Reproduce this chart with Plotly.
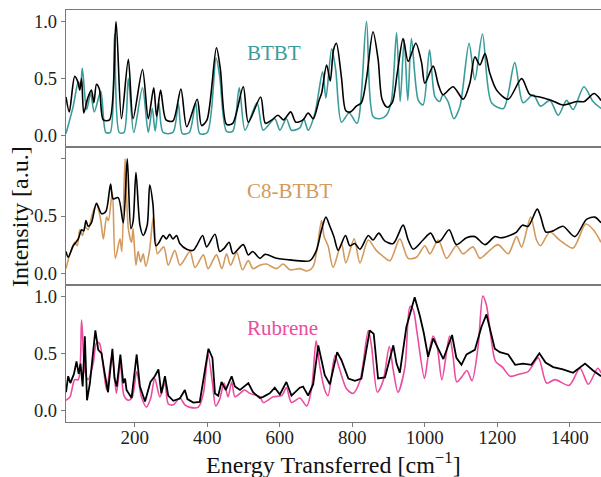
import plotly.graph_objects as go
from plotly.subplots import make_subplots

# ---------------- data ----------------
btbt_exp_x = [10, 19, 34, 43, 48, 53, 59, 70, 80, 87, 94, 102, 113, 130, 148, 163, 182, 195, 221, 237, 252, 260,
              271, 286, 305, 327, 343, 372, 384, 399, 425, 436, 453, 470, 499, 513, 547, 560, 578, 595, 610, 630,
              644, 664, 678, 692, 708, 715, 729, 739, 748, 756, 770, 782, 795, 811, 825, 839, 857, 871, 882, 896,
              910, 924, 940, 954, 975, 991, 1000, 1023, 1037, 1050, 1078, 1106, 1124, 1138, 1152, 1166, 1179, 1198,
              1230, 1267, 1290, 1317, 1350, 1381, 1419, 1440, 1467, 1486]
btbt_exp_y = [0.34, 0.21, 0.52, 0.47, 0.40, 0.50, 0.20, 0.33, 0.40, 0.29, 0.45, 0.41, 0.14, 0.14, 1.00, 0.15, 0.67,
              0.15, 0.58, 0.15, 0.42, 0.17, 0.40, 0.14, 0.13, 0.41, 0.08, 0.32, 0.09, 0.14, 0.77, 0.58, 0.10, 0.11,
              0.43, 0.12, 0.34, 0.11, 0.14, 0.18, 0.14, 0.21, 0.12, 0.14, 0.20, 0.15, 0.31, 0.37, 0.62, 0.48, 0.75,
              0.81, 0.51, 0.22, 0.21, 0.26, 0.29, 0.50, 0.91, 0.67, 0.32, 0.25, 0.29, 0.55, 0.85, 0.65, 0.81, 0.64,
              0.46, 0.61, 0.45, 0.36, 0.43, 0.32, 0.46, 0.69, 0.62, 0.72, 0.55, 0.40, 0.32, 0.50, 0.36, 0.34, 0.31,
              0.27, 0.30, 0.30, 0.37, 0.31]

btbt_calc_x = [10, 30, 44, 50, 55, 67, 78, 88, 106, 120, 132, 144, 157, 170, 182, 197, 221, 237, 248, 256, 266,
               278, 305, 320, 331, 350, 368, 379, 400, 424, 434, 453, 470, 488, 504, 537, 554, 586, 600, 618, 632,
               655, 666, 678, 697, 718, 727, 743, 754, 770, 791, 813, 839, 857, 876, 894, 908, 922, 932, 943, 953,
               963, 982, 995, 1013, 1028, 1041, 1050, 1064, 1080, 1097, 1122, 1138, 1159, 1184, 1217, 1248, 1271,
               1299, 1319, 1345, 1368, 1391, 1409, 1439, 1464, 1486]
btbt_calc_y = [0.02, 0.26, 0.47, 0.44, 0.59, 0.23, 0.37, 0.21, 0.39, 0.03, 0.03, 0.89, 0.03, 0.03, 0.50, 0.03,
               0.42, 0.03, 0.24, 0.04, 0.29, 0.03, 0.03, 0.28, 0.02, 0.03, 0.29, 0.02, 0.03, 0.68, 0.52, 0.04,
               0.04, 0.42, 0.05, 0.29, 0.05, 0.15, 0.05, 0.15, 0.05, 0.07, 0.15, 0.05, 0.20, 0.56, 0.33, 0.76,
               0.58, 0.12, 0.20, 0.11, 1.00, 0.17, 0.15, 0.18, 0.31, 0.90, 0.30, 0.84, 0.31, 0.85, 0.31, 0.27,
               0.75, 0.34, 0.30, 0.36, 0.30, 0.15, 0.26, 0.81, 0.49, 0.89, 0.29, 0.24, 0.64, 0.29, 0.36, 0.26,
               0.31, 0.18, 0.31, 0.23, 0.43, 0.30, 0.24]

c8_exp_x = [10, 16, 30, 44, 53, 59, 65, 71, 80, 94, 108, 120, 133, 140, 154, 168, 179, 189, 195, 203, 214, 223,
            234, 241, 250, 258, 267, 278, 287, 296, 305, 315, 324, 343, 361, 372, 387, 398, 421, 434, 447, 460, 471,
            499, 513, 525, 545, 559, 591, 619, 646, 683, 701, 715, 727, 738, 749, 761, 781, 793, 807, 821, 844, 857,
            873, 890, 913, 940, 954, 968, 995, 1016, 1032, 1045, 1067, 1087, 1115, 1138, 1166, 1193, 1210, 1234,
            1253, 1269, 1285, 1310, 1319, 1334, 1354, 1381, 1414, 1446, 1469, 1486]
c8_exp_y = [0.19, 0.14, 0.24, 0.30, 0.38, 0.37, 0.46, 0.41, 0.44, 0.61, 0.52, 0.54, 0.78, 0.65, 0.66, 0.44, 1.00,
            0.39, 0.45, 0.88, 0.42, 0.33, 0.42, 0.77, 0.60, 0.24, 0.27, 0.33, 0.30, 0.34, 0.30, 0.33, 0.26, 0.21,
            0.20, 0.25, 0.33, 0.23, 0.34, 0.19, 0.22, 0.27, 0.17, 0.25, 0.16, 0.19, 0.13, 0.165, 0.13, 0.12, 0.11,
            0.11, 0.20, 0.38, 0.49, 0.41, 0.32, 0.20, 0.33, 0.24, 0.26, 0.21, 0.33, 0.29, 0.35, 0.28, 0.26, 0.42,
            0.29, 0.21, 0.29, 0.35, 0.27, 0.29, 0.38, 0.25, 0.31, 0.32, 0.25, 0.32, 0.31, 0.33, 0.36, 0.42, 0.41,
            0.56, 0.50, 0.36, 0.37, 0.41, 0.32, 0.47, 0.49, 0.44]

c8_calc_x = [10, 21, 34, 41, 48, 56, 62, 71, 82, 94, 105, 113, 122, 127, 138, 146, 159, 164, 173, 182, 191, 195,
             203, 209, 216, 223, 230, 240, 251, 262, 268, 280, 292, 310, 324, 333, 352, 366, 389, 402, 425, 440,
             453, 464, 481, 497, 513, 526, 545, 563, 591, 609, 628, 655, 674, 692, 715, 722, 733, 747, 770, 782,
             805, 821, 844, 866, 884, 904, 931, 954, 977, 1000, 1014, 1037, 1060, 1087, 1105, 1133, 1152, 1179,
             1202, 1230, 1253, 1267, 1292, 1308, 1319, 1345, 1372, 1409, 1444, 1465, 1486]
c8_calc_y = [0.04, 0.17, 0.27, 0.24, 0.38, 0.33, 0.41, 0.38, 0.51, 0.60, 0.48, 0.30, 0.49, 0.46, 0.71, 0.13, 0.30,
             0.19, 1.00, 0.39, 0.27, 0.39, 0.07, 0.19, 0.10, 0.17, 0.06, 0.19, 0.49, 0.17, 0.19, 0.23, 0.07, 0.20,
             0.07, 0.10, 0.19, 0.05, 0.16, 0.04, 0.16, 0.04, 0.17, 0.07, 0.18, 0.03, 0.11, 0.04, 0.07, 0.08, 0.04,
             0.08, 0.03, 0.04, 0.02, 0.06, 0.46, 0.32, 0.24, 0.05, 0.26, 0.09, 0.30, 0.09, 0.29, 0.20, 0.15, 0.11,
             0.30, 0.13, 0.14, 0.24, 0.17, 0.29, 0.13, 0.24, 0.17, 0.23, 0.13, 0.20, 0.25, 0.17, 0.32, 0.23, 0.49,
             0.29, 0.24, 0.36, 0.29, 0.22, 0.43, 0.38, 0.27]

rub_exp_x = [10, 16, 22, 32, 39, 45, 50, 56, 62, 68, 76, 82, 91, 99, 108, 117, 126, 138, 144, 150, 160, 168, 173,
             177, 191, 205, 214, 228, 243, 255, 265, 273, 283, 292, 306, 324, 338, 345, 361, 379, 390, 403, 414,
             421, 430, 439, 451, 467, 476, 490, 513, 526, 545, 554, 572, 586, 600, 618, 632, 655, 664, 678, 692,
             706, 715, 724, 738, 758, 770, 789, 807, 825, 848, 859, 871, 890, 913, 922, 931, 949, 972, 986, 997,
             1009, 1023, 1037, 1051, 1075, 1087, 1101, 1115, 1138, 1156, 1170, 1177, 1193, 1207, 1230, 1249, 1271,
             1294, 1316, 1333, 1354, 1381, 1409, 1442, 1464, 1486]
rub_exp_y = [0.16, 0.30, 0.24, 0.32, 0.43, 0.32, 0.41, 0.21, 0.65, 0.09, 0.24, 0.44, 0.70, 0.53, 0.50, 0.32, 0.16,
             0.54, 0.28, 0.21, 0.49, 0.24, 0.28, 0.18, 0.11, 0.49, 0.21, 0.08, 0.25, 0.30, 0.36, 0.15, 0.30, 0.13,
             0.085, 0.105, 0.18, 0.10, 0.07, 0.075, 0.30, 0.54, 0.46, 0.15, 0.13, 0.25, 0.18, 0.30, 0.21, 0.18,
             0.24, 0.16, 0.11, 0.12, 0.15, 0.20, 0.14, 0.25, 0.13, 0.20, 0.21, 0.13, 0.23, 0.57, 0.44, 0.31, 0.23,
             0.51, 0.44, 0.28, 0.26, 0.28, 0.70, 0.67, 0.28, 0.29, 0.57, 0.41, 0.33, 0.73, 0.99, 0.83, 0.68, 0.47,
             0.63, 0.54, 0.45, 0.66, 0.46, 0.40, 0.49, 0.53, 0.73, 0.84, 0.75, 0.54, 0.51, 0.49, 0.40, 0.41, 0.40,
             0.50, 0.42, 0.38, 0.36, 0.33, 0.41, 0.35, 0.30]

rub_calc_x = [10, 21, 34, 44, 53, 62, 71, 85, 94, 102, 113, 122, 137, 149, 160, 170, 182, 193, 205, 218, 232, 243,
              255, 269, 283, 292, 306, 324, 338, 350, 375, 389, 402, 414, 423, 434, 446, 457, 467, 476, 490, 503,
              517, 545, 554, 582, 605, 618, 632, 655, 674, 688, 700, 710, 724, 733, 752, 764, 784, 802, 821, 844,
              853, 869, 885, 902, 913, 926, 945, 959, 968, 979, 999, 1009, 1023, 1034, 1047, 1068, 1078, 1088,
              1101, 1116, 1130, 1147, 1160, 1170, 1182, 1195, 1214, 1235, 1262, 1285, 1313, 1336, 1359, 1398,
              1428, 1451, 1477, 1486]
rub_calc_y = [0.09, 0.12, 0.27, 0.27, 0.79, 0.35, 0.27, 0.41, 0.59, 0.59, 0.38, 0.18, 0.49, 0.15, 0.41, 0.13,
              0.09, 0.12, 0.34, 0.12, 0.03, 0.10, 0.28, 0.12, 0.24, 0.06, 0.05, 0.11, 0.05, 0.03, 0.03, 0.15,
              0.49, 0.24, 0.04, 0.10, 0.24, 0.12, 0.25, 0.12, 0.15, 0.18, 0.15, 0.12, 0.07, 0.12, 0.13, 0.20,
              0.07, 0.11, 0.04, 0.20, 0.61, 0.39, 0.18, 0.13, 0.48, 0.37, 0.19, 0.15, 0.26, 0.70, 0.56, 0.16,
              0.26, 0.56, 0.35, 0.16, 0.38, 0.91, 0.88, 0.67, 0.28, 0.47, 0.65, 0.56, 0.27, 0.65, 0.47, 0.25,
              0.29, 0.35, 0.26, 0.56, 1.00, 0.92, 0.65, 0.43, 0.38, 0.30, 0.32, 0.34, 0.46, 0.24, 0.27, 0.22,
              0.37, 0.23, 0.37, 0.33]

labels = ["BTBT", "C8-BTBT", "Rubrene"]
colors = ["#3a9c9a", "#d39a5c", "#ec4c9f"]
y_ticks = [0.0, 0.5, 1.0]
x_ticks = [200, 400, 600, 800, 1000, 1200, 1400]

# ---------------- figure ----------------
FONT = "Liberation Serif"
AX_COLOR = "#7a7a7a"

fig = make_subplots(rows=3, cols=1, shared_xaxes=True, vertical_spacing=0)

panels = [
    (btbt_exp_x, btbt_exp_y, btbt_calc_x, btbt_calc_y, "spline"),
    (c8_exp_x, c8_exp_y, c8_calc_x, c8_calc_y, "spline"),
    (rub_exp_x, rub_exp_y, rub_calc_x, rub_calc_y, "linear"),
]

for i, (ex, ey, cx, cy, shape) in enumerate(panels):
    row = i + 1
    fig.add_trace(go.Scatter(x=cx, y=cy, mode="lines",
                             line=dict(color=colors[i], width=1.6, shape="spline", smoothing=0.8),
                             showlegend=False), row=row, col=1)
    line_kw = dict(color="black", width=1.6)
    if shape == "spline":
        line_kw.update(shape="spline", smoothing=0.8)
    else:
        line_kw.update(width=1.8)
    fig.add_trace(go.Scatter(x=ex, y=ey, mode="lines", line=line_kw, showlegend=False),
                  row=row, col=1)

for i in range(3):
    row = i + 1
    fig.update_xaxes(range=[10, 1486], showline=True, mirror=True, linecolor=AX_COLOR, linewidth=1.4,
                     showgrid=False, zeroline=False, row=row, col=1)
    ticktext = ["0.0", "0.5", "1.0"] if i != 1 else ["0.0", "0.5", ""]
    fig.update_yaxes(range=[-0.1, 1.1], tickvals=y_ticks, ticktext=ticktext, showline=True,
                     linecolor=AX_COLOR, linewidth=1.4, ticks="outside", ticklen=4, tickcolor=AX_COLOR,
                     showgrid=False, zeroline=False, tickfont=dict(family=FONT, size=18.5, color="#222"),
                     row=row, col=1)

fig.update_xaxes(ticks="outside", ticklen=4, tickcolor=AX_COLOR, tickvals=x_ticks,
                 ticklabelstandoff=-6,
                 showticklabels=True, tickfont=dict(family=FONT, size=19, color="#222"), row=3, col=1)

ann_y = [0.72, 0.72, 0.72]
yrefs = ["y", "y2", "y3"]
xrefs = ["x", "x2", "x3"]
for i in range(3):
    fig.add_annotation(x=503, y=ann_y[i], xref=xrefs[i], yref=yrefs[i], text=labels[i], showarrow=False,
                       xanchor="left", yanchor="middle", font=dict(family=FONT, size=21, color=colors[i]))

fig.add_annotation(x=-0.086, y=0.5, xref="paper", yref="paper", text="Intensity [a.u.]", showarrow=False,
                   textangle=-90, xanchor="center", yanchor="middle", font=dict(family=FONT, size=24, color="#111"))
fig.add_annotation(x=0.5, y=-0.1, xref="paper", yref="paper", text="Energy Transferred [cm<sup>\u22121</sup>]",
                   showarrow=False, xanchor="center", yanchor="middle", font=dict(family=FONT, size=24, color="#111"))

fig.update_layout(width=601, height=477, margin=dict(l=66, r=0, t=10, b=55),
                  plot_bgcolor="white", paper_bgcolor="white", font=dict(family=FONT))

fig.write_html("out.html")
